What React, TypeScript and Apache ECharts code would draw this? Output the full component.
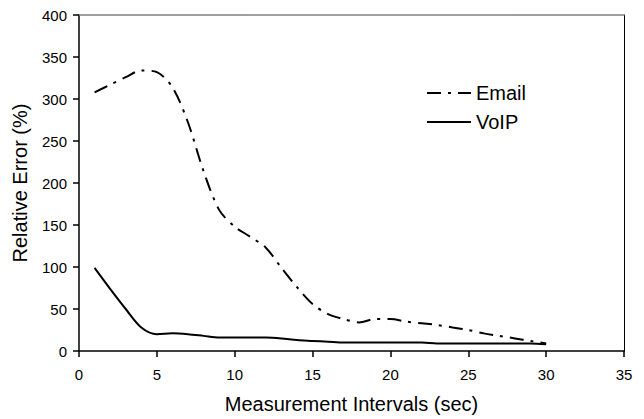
import React, { useEffect, useRef } from "react";
import * as echarts from "echarts";

const xValues = [1, 2, 3, 4, 5, 6, 7, 8, 9, 10, 11, 12, 13, 14, 15, 16, 17, 18, 19, 20, 21, 22, 23, 24, 25, 26, 27, 28, 29, 30];
const emailValues = [308, 317, 326, 334, 332, 314, 272, 214, 168, 148, 136, 123, 99, 76, 56, 44, 38, 34, 38, 38, 35, 33, 31, 28, 25, 21, 18, 15, 12, 9];
const voipValues = [99, 74, 50, 28, 20, 21, 20, 18, 16, 16, 16, 16, 15, 13, 12, 11, 10, 10, 10, 10, 10, 10, 9, 9, 9, 9, 9, 9, 9, 8];
const seriesNames = ["Email", "VoIP"];
const xTitle = "Measurement Intervals (sec)";
const yTitle = "Relative Error (%)";

export default function App() {
  const ref = useRef<HTMLDivElement>(null);
  useEffect(() => {
    if (!ref.current) return;
    const chart = echarts.init(ref.current, undefined, { renderer: "svg" });
    const font = "'Liberation Sans', Arial, sans-serif";
    chart.setOption({
      animation: false,
      backgroundColor: "#ffffff",
      textStyle: { fontFamily: font, color: "#000" },
      grid: { left: 79, top: 15, right: 20, bottom: 65, containLabel: false },
      legend: {
        orient: "vertical",
        left: 421,
        top: 78,
        itemWidth: 44,
        itemHeight: 14,
        itemGap: 9,
        itemStyle: { opacity: 0 },
        textStyle: { fontSize: 20, color: "#000", fontFamily: font },
        data: seriesNames,
      },
      xAxis: [
        {
          type: "value",
          min: 0,
          max: 35,
          interval: 5,
          name: xTitle,
          nameLocation: "middle",
          nameGap: 43,
          nameTextStyle: { fontSize: 20, color: "#000", fontFamily: font },
          axisLine: { show: true, onZero: false, lineStyle: { color: "#000", width: 1.5 } },
          axisTick: { show: true, inside: false, length: 6, lineStyle: { color: "#000", width: 1.5 } },
          axisLabel: { fontSize: 15, color: "#000", margin: 16, fontFamily: font },
          splitLine: { show: false },
        },
        {
          type: "value",
          position: "top",
          min: 0,
          max: 35,
          interval: 5,
          axisLine: { show: true, onZero: false, lineStyle: { color: "#808080", width: 1.5 } },
          axisTick: { show: false },
          axisLabel: { show: false },
          splitLine: { show: false },
        },
      ],
      yAxis: [
        {
          type: "value",
          min: 0,
          max: 400,
          interval: 50,
          name: yTitle,
          nameLocation: "middle",
          nameGap: 49,
          nameTextStyle: { fontSize: 20, color: "#000", fontFamily: font },
          axisLine: { show: true, onZero: false, lineStyle: { color: "#000", width: 1.5 } },
          axisTick: { show: true, inside: false, length: 6, lineStyle: { color: "#000", width: 1.5 } },
          axisLabel: { fontSize: 15, color: "#000", margin: 12, fontFamily: font },
          splitLine: { show: false },
        },
        {
          type: "value",
          position: "right",
          min: 0,
          max: 400,
          interval: 50,
          axisLine: { show: true, onZero: false, lineStyle: { color: "#000", width: 1 } },
          axisTick: { show: false },
          axisLabel: { show: false },
          splitLine: { show: false },
        },
      ],
      series: [
        {
          name: seriesNames[0],
          type: "line",
          smooth: 0.3,
          symbol: "none",
          data: xValues.map((x, i) => [x, emailValues[i]]),
          lineStyle: { color: "#000", width: 2, type: [14, 7, 3, 7] },
          itemStyle: { color: "#000" },
        },
        {
          name: seriesNames[1],
          type: "line",
          smooth: 0.3,
          symbol: "none",
          data: xValues.map((x, i) => [x, voipValues[i]]),
          lineStyle: { color: "#000", width: 2, type: "solid" },
          itemStyle: { color: "#000" },
        },
      ],
    });
    return () => chart.dispose();
  }, []);
  return (
    <div
      ref={ref}
      style={{ position: "fixed", left: 0, top: 0, width: 644, height: 419, background: "#fff" }}
    />
  );
}
